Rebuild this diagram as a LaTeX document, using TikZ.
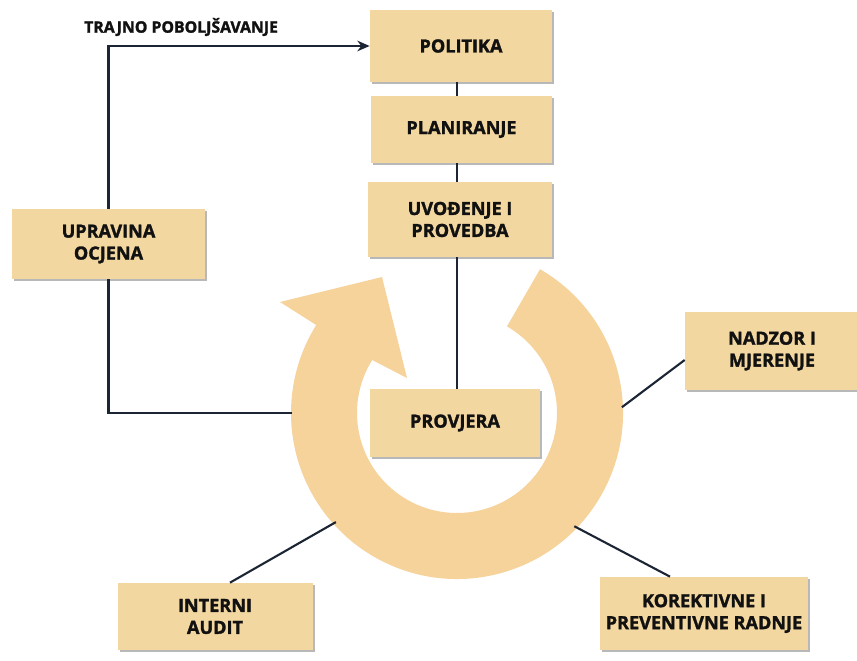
\documentclass[tikz,border=0pt]{standalone}
\usepackage{fontspec}
\setmainfont{Open Sans}[BoldFeatures={FakeBold=1.6}]
\usetikzlibrary{arrows.meta,calc,shadows}
\definecolor{boxcol}{HTML}{F3D7A0}
\definecolor{ringcol}{HTML}{F6D39A}
\definecolor{linecol}{HTML}{1C2533}
\definecolor{txtcol}{HTML}{111111}
\tikzset{
  pbox/.style={fill=boxcol, draw=none, align=center, text=txtcol,
    font=\fontsize{10.3}{12.5}\selectfont\bfseries, inner sep=0pt,
    drop shadow={shadow xshift=1.3pt, shadow yshift=-1.3pt, fill=black, opacity=0.28}},
  conn/.style={draw=linecol, line width=1.2pt},
}
\begin{document}
\begin{tikzpicture}[x=0.02cm, y=-0.02cm]
\useasboundingbox (0,0) rectangle (857,661);
\fill[white] (0,0) rectangle (857,661);

% ring arrow
\begin{scope}[shift={(457,413)}, y=0.02cm]
  \fill[ringcol] (60:166) arc[start angle=60, end angle=-212, radius=166]
     -- (-177,111) -- (-75,136) -- (-50,35)
     -- (-212:100) arc[start angle=-212, end angle=60, radius=100] -- cycle;
  \coordinate (ringL) at (180:165);
  \coordinate (ringN) at (2:165);
  \coordinate (ringK) at (-44:163);
  \coordinate (ringI) at (-138:163);
\end{scope}

% boxes
\node[pbox, minimum width=182*0.02cm, minimum height=72*0.02cm] (pol) at (461,46) {POLITIKA};
\node[pbox, minimum width=181*0.02cm, minimum height=67*0.02cm] (pla) at (461.5,129.5) {PLANIRANJE};
\node[pbox, minimum width=184*0.02cm, minimum height=75*0.02cm] (uvo) at (460,219.5) {UVOĐENJE I\\PROVEDBA};
\node[pbox, minimum width=193*0.02cm, minimum height=70*0.02cm] (upr) at (108.5,244) {UPRAVINA\\OCJENA};
\node[pbox, minimum width=170*0.02cm, minimum height=68*0.02cm] (pro) at (455,423) {PROVJERA};
\node[pbox, minimum width=174*0.02cm, minimum height=78*0.02cm] (nad) at (772,351) {NADZOR I\\MJERENJE};
\node[pbox, minimum width=208*0.02cm, minimum height=73*0.02cm] (kor) at (704,613.5) {KOREKTIVNE I\\PREVENTIVNE RADNJE};
\node[pbox, minimum width=195*0.02cm, minimum height=67*0.02cm] (int) at (215,616.5) {INTERNI\\AUDIT};

\node[text=txtcol, font=\fontsize{9}{11}\selectfont\bfseries, anchor=west] (trajno) at (78,27) {TRAJNO POBOLJŠAVANJE};

% connectors
\draw[conn, -{Stealth[length=7pt,width=6pt]}] (upr.north) |- (pol.west);
\draw[conn] (ringL) -| (upr.south);
\draw[conn] ($(pol.south)+(-4,0)$) -- ($(pla.north)+(-4.5,0)$);
\draw[conn] ($(pla.south)+(-4.5,0)$) -- ($(uvo.north)+(-3,0)$);
\draw[conn] ($(uvo.south)+(-3,0)$) -- ($(pro.north)+(2,0)$);
\draw[conn] (ringN) -- ($(nad.west)+(0,9)$);
\draw[conn] (ringK) -- ($(kor.north)+(-34,0)$);
\draw[conn] (ringI) -- ($(int.north)+(15,0)$);
\end{tikzpicture}
\end{document}
